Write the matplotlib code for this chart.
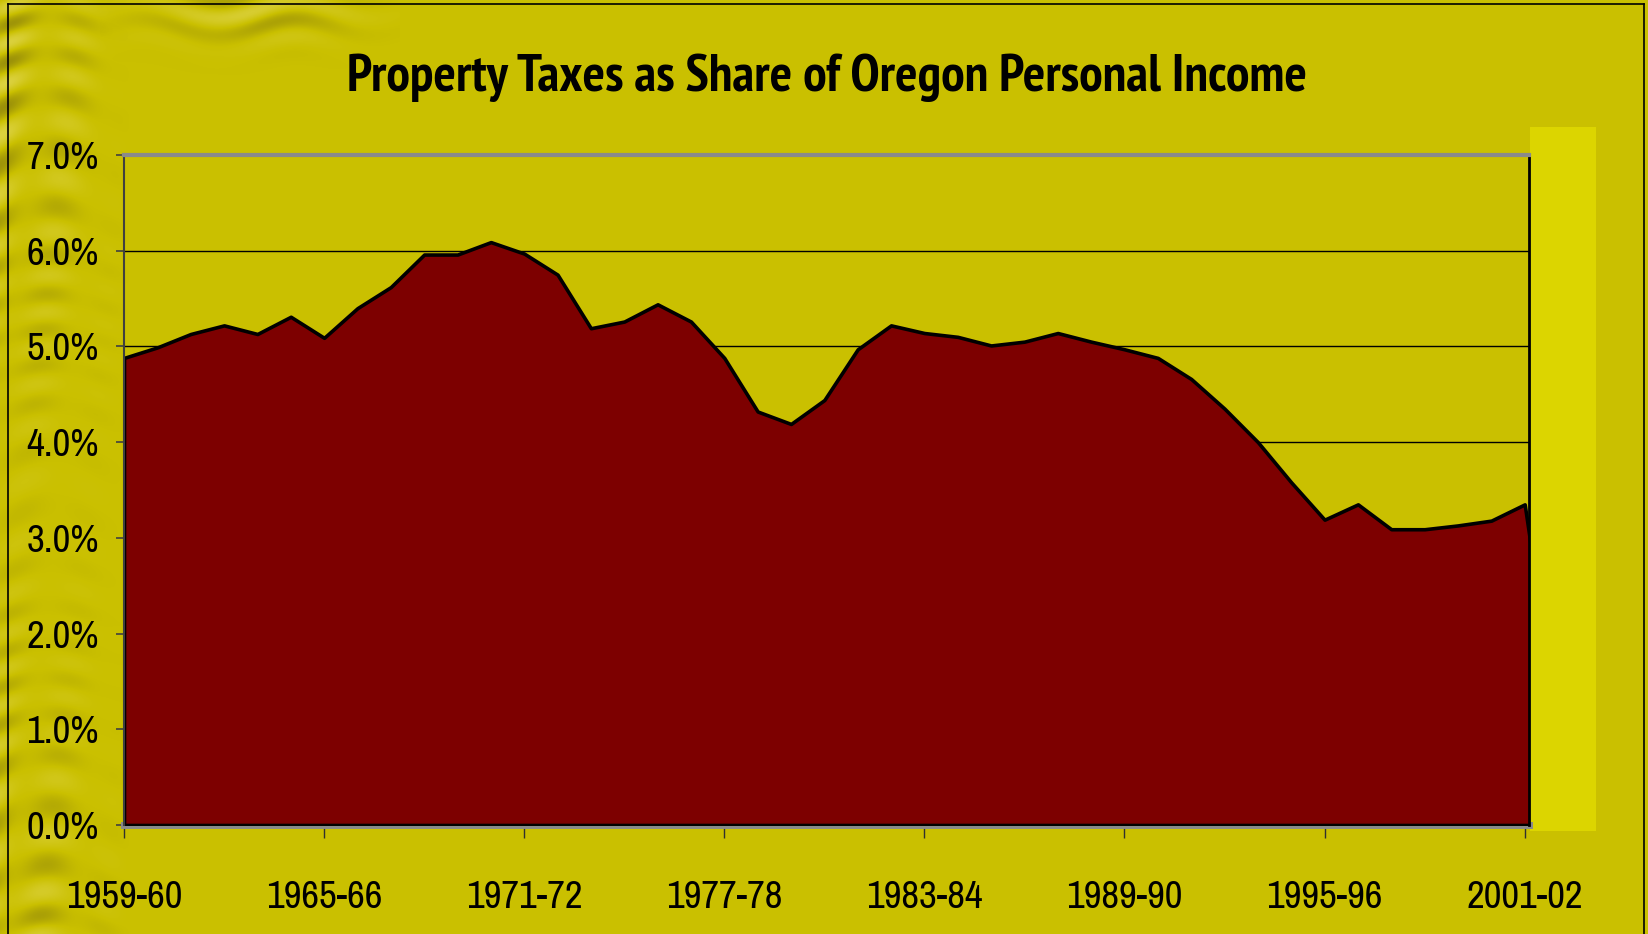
import numpy as np
import matplotlib
matplotlib.use("Agg")
import matplotlib.pyplot as plt
from matplotlib import font_manager as fm
from matplotlib.patches import Rectangle
from matplotlib.lines import Line2D

# ---- data ----
years = ["1959-60", "1960-61", "1961-62", "1962-63", "1963-64", "1964-65",
         "1965-66", "1966-67", "1967-68", "1968-69", "1969-70", "1970-71",
         "1971-72", "1972-73", "1973-74", "1974-75", "1975-76", "1976-77",
         "1977-78", "1978-79", "1979-80", "1980-81", "1981-82", "1982-83",
         "1983-84", "1984-85", "1985-86", "1986-87", "1987-88", "1988-89",
         "1989-90", "1990-91", "1991-92", "1992-93", "1993-94", "1994-95",
         "1995-96", "1996-97", "1997-98", "1998-99", "1999-00", "2000-01",
         "2001-02", "2002-03"]
share_pct = [4.88, 4.99, 5.13, 5.22, 5.13, 5.31,
             5.09, 5.40, 5.62, 5.96, 5.96, 6.09,
             5.97, 5.75, 5.19, 5.26, 5.44, 5.26,
             4.88, 4.32, 4.19, 4.44, 4.97, 5.22,
             5.14, 5.10, 5.01, 5.05, 5.14, 5.05,
             4.97, 4.88, 4.66, 4.35, 4.00, 3.58,
             3.19, 3.35, 3.09, 3.09, 3.13, 3.18,
             3.35, 1.00]
yticks = [0, 1, 2, 3, 4, 5, 6, 7]
ytick_labels = ["0.0%", "1.0%", "2.0%", "3.0%", "4.0%", "5.0%", "6.0%", "7.0%"]
xtick_step = 6
title = "Property Taxes as Share of Oregon Personal Income"

BG = "#CAC000"
BRIGHT = "#DCD500"
FILL = "#7D0000"


def pick(cands, bold):
    names = {}
    for f in fm.fontManager.ttflist:
        w = f.weight if isinstance(f.weight, int) else (700 if "bold" in str(f.weight) else 400)
        names.setdefault(f.name, set()).add(w)
    for name in cands:
        ws = names.get(name)
        if not ws:
            continue
        if bold and max(ws) < 600:
            continue
        return name
    return "Liberation Sans"


REG = ["Liberation Sans Narrow", "Arial Narrow", "Archivo Narrow", "Roboto Condensed",
       "PT Sans Narrow", "Pragati Narrow", "Asap Condensed", "Fira Sans Condensed",
       "IBM Plex Sans Condensed"]
BOLD = ["Liberation Sans Narrow", "Arial Narrow", "PT Sans Narrow", "Roboto Condensed",
        "Archivo Narrow", "Pragati Narrow", "Asap Condensed", "Fira Sans Condensed",
        "IBM Plex Sans Condensed"]
fam_reg = [pick(REG, False), "DejaVu Sans"]
fam_bold = [pick(BOLD, True), "DejaVu Sans"]

W, H = 1649, 934
fig = plt.figure(figsize=(W / 100, H / 100), dpi=100)
fig.patch.set_facecolor(BG)

# ---- decorative texture on the left edge ----
tex = fig.add_axes([0, 0, 1, 1], zorder=-5)
tex.axis("off")
yy, xx = np.mgrid[0:H, 0:130].astype(float)
grain = (np.sin(yy / 7.0 + 1.8 * np.sin(xx / 31.0) + 2.0 * np.sin(yy / 53.0))
         * (0.6 + 0.4 * np.sin(xx / 11.0 + yy / 90.0)))
env = np.clip(1 - (xx - 5) / 125.0, 0, 1) ** 1.1 * (0.6 + 0.4 * np.sin(yy / 140.0 + 1.0))
img = np.zeros((H, 130, 4))
dark = np.array([0.56, 0.52, 0.05])
light = np.array([0.88, 0.84, 0.32])
img[..., :3] = np.where(grain[..., None] > 0, light, dark)
img[..., 3] = np.clip(np.abs(grain) * env * 0.8, 0, 1)
tex.imshow(img, extent=(0, 130, H, 0), interpolation="bilinear", aspect="auto")
yy2, xx2 = np.mgrid[0:75, 0:300].astype(float)
blob = np.exp(-(((xx2 - 150) / 95.0) ** 2 + ((yy2 - 12) / 28.0) ** 2))
g2 = np.sin(yy2 / 6.0 + 1.5 * np.sin(xx2 / 25.0))
img2 = np.zeros((75, 300, 4))
img2[..., :3] = np.where(g2[..., None] > 0, light, dark)
img2[..., 3] = blob * np.abs(g2) * 0.6
tex.imshow(img2, extent=(100, 400, 75, 0), interpolation="bilinear", aspect="auto")
tex.set_xlim(0, W); tex.set_ylim(H, 0)

# bright yellow strip at right of plot
fig.patches.append(Rectangle((1530 / W, 1 - 831 / H), 66 / W, 704 / H,
                             transform=fig.transFigure, facecolor=BRIGHT,
                             edgecolor="none", zorder=-1))
# outer frame lines (pixel coords from top-left)
for (x0, y0), (x1, y1) in [((8, 934), (8, 4)), ((8, 4), (1644, 4)), ((1644, 4), (1644, 934))]:
    fig.lines.append(Line2D([x0 / W, x1 / W], [1 - y0 / H, 1 - y1 / H],
                            transform=fig.transFigure, color="black", lw=1.2))

# ---- main axes ----
ax = fig.add_axes([124 / W, 1 - 825 / H, (1529 - 124) / W, (825 - 155) / H])
ax.set_facecolor("none")
x = np.arange(len(years))
ax.fill_between(x, share_pct, 0, facecolor=FILL, edgecolor="black",
                linewidth=2.6, zorder=3)
ax.set_xlim(0, 42.13)
ax.set_ylim(0, 7)

ax.set_yticks(yticks)
ax.set_yticklabels(ytick_labels)
xt = list(range(0, 43, xtick_step))
ax.set_xticks(xt)
ax.set_xticklabels([years[i] for i in xt])

for yv in yticks[1:-1]:
    ax.axhline(yv, color="black", lw=1.0, zorder=1)

ax.spines["top"].set_color("#8A8A8A"); ax.spines["top"].set_linewidth(3)
ax.spines["top"].set_zorder(4)
ax.spines["left"].set_color("#404040"); ax.spines["left"].set_linewidth(1.5)
ax.spines["left"].set_zorder(4)
ax.spines["right"].set_color("black"); ax.spines["right"].set_linewidth(2)
ax.spines["right"].set_zorder(4)
ax.spines["bottom"].set_color("#8A8A8A"); ax.spines["bottom"].set_linewidth(5)
ax.spines["bottom"].set_zorder(2)

ax.tick_params(axis="y", direction="out", length=6, width=1.2, color="#404040",
               pad=12, labelsize=28, labelcolor="black")
ax.tick_params(axis="x", direction="out", length=9.5, width=1.0, color="#303030",
               pad=30, labelsize=28, labelcolor="black")
for lab in ax.get_xticklabels() + ax.get_yticklabels():
    lab.set_family(fam_reg)

fig.text(827 / W, 1 - 91 / H, title, ha="center", va="baseline",
         fontsize=38, fontweight="bold", family=fam_bold, color="black")

fig.savefig("out.png", dpi=100, facecolor=BG)
